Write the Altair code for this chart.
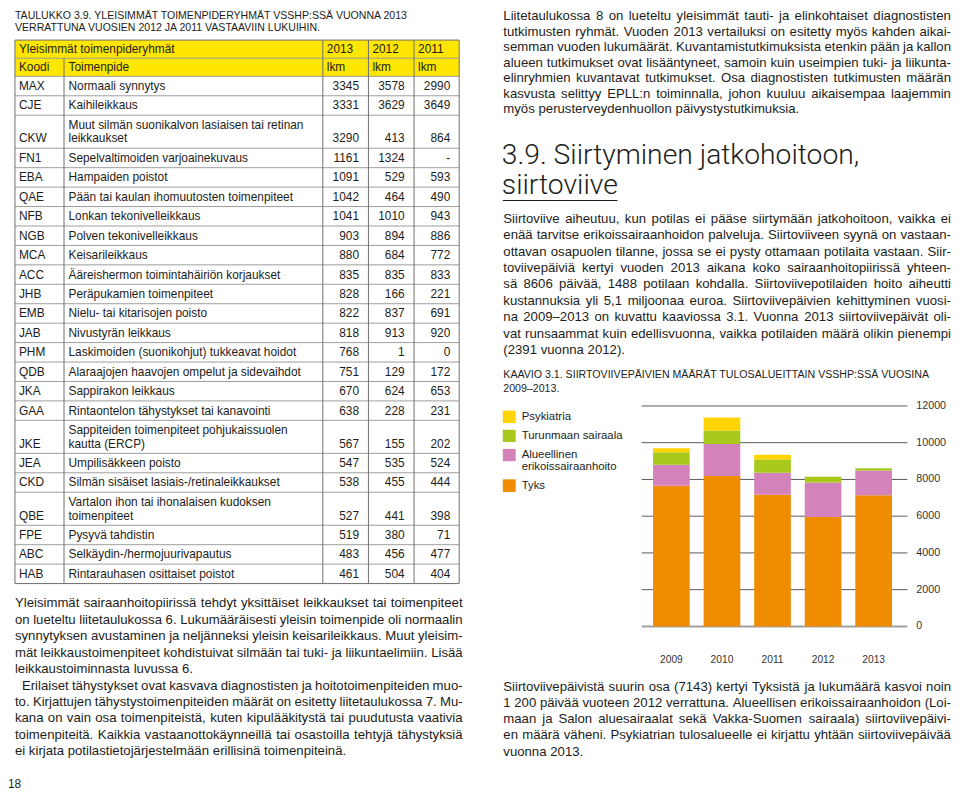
import altair as alt
import pandas as pd

# ---------------- data ----------------
years = ["2009", "2010", "2011", "2012", "2013"]
series_names = ["Tyks", "Alueellinen erikoissairaanhoito", "Turunmaan sairaala", "Psykiatria"]
tyks = [7650, 8190, 7160, 5950, 7143]
alueellinen = [1150, 1740, 1200, 1880, 1340]
turunmaa = [680, 740, 720, 320, 123]
psykiatria = [220, 700, 270, 0, 0]
series_colors = ["#F08C00", "#D483BA", "#A8C81C", "#FFD400"]
y_ticks = [0, 2000, 4000, 6000, 8000, 10000, 12000]

legend_series = ["Psykiatria", "Turunmaan sairaala", "Alueellinen erikoissairaanhoito", "Tyks"]
legend_labels = [["Psykiatria"], ["Turunmaan sairaala"], ["Alueellinen", "erikoissairaanhoito"], ["Tyks"]]

table_title = ["TAULUKKO 3.9. YLEISIMMÄT TOIMENPIDERYHMÄT VSSHP:SSÄ VUONNA 2013",
               "VERRATTUNA VUOSIEN 2012 JA 2011 VASTAAVIIN LUKUIHIN."]
table_head1 = ["Yleisimmät toimenpideryhmät", "2013", "2012", "2011"]
table_head2 = ["Koodi", "Toimenpide", "lkm", "lkm", "lkm"]
codes = ["MAX", "CJE", "CKW", "FN1", "EBA", "QAE", "NFB", "NGB", "MCA", "ACC", "JHB", "EMB",
         "JAB", "PHM", "QDB", "JKA", "GAA", "JKE", "JEA", "CKD", "QBE", "FPE", "ABC", "HAB"]
procedures = ["Normaali synnytys", "Kaihileikkaus",
              "Muut silmän suonikalvon lasiaisen tai retinan\nleikkaukset",
              "Sepelvaltimoiden varjoainekuvaus", "Hampaiden poistot",
              "Pään tai kaulan ihomuutosten toimenpiteet", "Lonkan tekonivelleikkaus",
              "Polven tekonivelleikkaus", "Keisarileikkaus", "Ääreishermon toimintahäiriön korjaukset",
              "Peräpukamien toimenpiteet", "Nielu- tai kitarisojen poisto", "Nivustyrän leikkaus",
              "Laskimoiden (suonikohjut) tukkeavat hoidot", "Alaraajojen haavojen ompelut ja sidevaihdot",
              "Sappirakon leikkaus", "Rintaontelon tähystykset tai kanavointi",
              "Sappiteiden toimenpiteet pohjukaissuolen\nkautta (ERCP)", "Umpilisäkkeen poisto",
              "Silmän sisäiset lasiais-/retinaleikkaukset",
              "Vartalon ihon tai ihonalaisen kudoksen\ntoimenpiteet", "Pysyvä tahdistin",
              "Selkäydin-/hermojuurivapautus", "Rintarauhasen osittaiset poistot"]
n2013 = ["3345", "3331", "3290", "1161", "1091", "1042", "1041", "903", "880", "835", "828", "822",
         "818", "768", "751", "670", "638", "567", "547", "538", "527", "519", "483", "461"]
n2012 = ["3578", "3629", "413", "1324", "529", "464", "1010", "894", "684", "835", "166", "837",
         "913", "1", "129", "624", "228", "155", "535", "455", "441", "380", "456", "504"]
n2011 = ["2990", "3649", "864", "-", "593", "490", "943", "886", "772", "833", "221", "691",
         "920", "0", "172", "653", "231", "202", "524", "444", "398", "71", "477", "404"]

left_par_a = ["Yleisimmät sairaanhoitopiirissä tehdyt yksittäiset leikkaukset tai toimenpiteet",
              "on lueteltu liitetaulukossa 6. Lukumääräisesti yleisin toimenpide oli normaalin",
              "synnytyksen avustaminen ja neljänneksi yleisin keisarileikkaus. Muut yleisim-",
              "mät leikkaustoimenpiteet kohdistuivat silmään tai tuki- ja liikuntaelimiin. Lisää",
              "leikkaustoiminnasta luvussa 6."]
left_par_b = ["Erilaiset tähystykset ovat kasvava diagnostisten ja hoitotoimenpiteiden muo-",
              "to. Kirjattujen tähystystoimenpiteiden määrät on esitetty liitetaulukossa 7. Mu-",
              "kana on vain osa toimenpiteistä, kuten kipulääkitystä tai puudutusta vaativia",
              "toimenpiteitä. Kaikkia vastaanottokäynneillä tai osastoilla tehtyjä tähystyksiä",
              "ei kirjata potilastietojärjestelmään erillisinä toimenpiteinä."]
right_par_1 = ["Liitetaulukossa 8 on lueteltu yleisimmät tauti- ja elinkohtaiset diagnostisten",
               "tutkimusten ryhmät. Vuoden 2013 vertailuksi on esitetty myös kahden aikai-",
               "semman vuoden lukumäärät. Kuvantamistutkimuksista etenkin pään ja kallon",
               "alueen tutkimukset ovat lisääntyneet, samoin kuin useimpien tuki- ja liikunta-",
               "elinryhmien kuvantavat tutkimukset. Osa diagnostisten tutkimusten määrän",
               "kasvusta selittyy EPLL:n toiminnalla, johon kuuluu aikaisempaa laajemmin",
               "myös perusterveydenhuollon päivystystutkimuksia."]
heading = ["3.9. Siirtyminen jatkohoitoon,", "siirtoviive"]
right_par_2 = ["Siirtoviive aiheutuu, kun potilas ei pääse siirtymään jatkohoitoon, vaikka ei",
               "enää tarvitse erikoissairaanhoidon palveluja. Siirtoviiveen syynä on vastaan-",
               "ottavan osapuolen tilanne, jossa se ei pysty ottamaan potilaita vastaan. Siir-",
               "toviivepäiviä kertyi vuoden 2013 aikana koko sairaanhoitopiirissä yhteen-",
               "sä 8606 päivää, 1488 potilaan kohdalla. Siirtoviivepotilaiden hoito aiheutti",
               "kustannuksia yli 5,1 miljoonaa euroa. Siirtoviivepäivien kehittyminen vuosi-",
               "na 2009–2013 on kuvattu kaaviossa 3.1. Vuonna 2013 siirtoviivepäivät oli-",
               "vat runsaammat kuin edellisvuonna, vaikka potilaiden määrä olikin pienempi",
               "(2391 vuonna 2012)."]
chart_caption = ["KAAVIO 3.1. SIIRTOVIIVEPÄIVIEN MÄÄRÄT TULOSALUEITTAIN VSSHP:SSÄ VUOSINA",
                 "2009–2013."]
right_par_3 = ["Siirtoviivepäivistä suurin osa (7143) kertyi Tyksistä ja lukumäärä kasvoi noin",
               "1\u00a0200 päivää vuoteen 2012 verrattuna. Alueellisen erikoissairaanhoidon (Loi-",
               "maan ja Salon aluesairaalat sekä Vakka-Suomen sairaala) siirtoviivepäivi-",
               "en määrä väheni. Psykiatrian tulosalueelle ei kirjattu yhtään siirtoviivepäivää",
               "vuonna 2013."]
page_number = "18"

# ---------------- layout helpers ----------------
OX, OY = 8, 8          # page margin: chart origin on the page
FONT = "Liberation Sans"
INK = "#1d1d1b"


def px(x):
    return x - OX


def py(y):
    return y - OY


AW = {' ': 278, '\u00a0': 278, '(': 333, ')': 333, ',': 278, '-': 333, '.': 278, '/': 278, ':': 278,
      '–': 556, 'A': 667, 'B': 667, 'C': 722, 'D': 722, 'E': 667, 'F': 611, 'G': 778, 'H': 722,
      'I': 278, 'J': 500, 'K': 667, 'L': 556, 'M': 833, 'N': 722, 'O': 778, 'P': 667, 'Q': 778,
      'R': 722, 'S': 667, 'T': 611, 'U': 722, 'V': 667, 'W': 944, 'X': 667, 'Y': 667, 'Z': 611,
      'Ä': 667, 'Ö': 778, 'a': 556, 'b': 556, 'c': 500, 'd': 556, 'e': 556, 'f': 278, 'g': 556,
      'h': 556, 'i': 222, 'j': 222, 'k': 500, 'l': 222, 'm': 833, 'n': 556, 'o': 556, 'p': 556,
      'q': 556, 'r': 333, 's': 500, 't': 278, 'u': 556, 'v': 500, 'w': 722, 'x': 500, 'y': 500,
      'z': 500, 'ä': 556, 'ö': 556}


def tw(s, size):
    return sum(AW.get(c, 556) for c in s) * size / 1000.0


def paragraph(lines, x0, x1, y0, lh, size, indent=0.0):
    rows = []
    for i, line in enumerate(lines):
        y = y0 + i * lh
        start = x0 + (indent if i == 0 else 0.0)
        words = line.split(" ")
        widths = [tw(w, size) for w in words]
        if i == len(lines) - 1 or len(words) == 1:
            gap = tw(" ", size)
        else:
            gap = max(1.6, (x1 - start - sum(widths)) / (len(words) - 1))
        x = start
        for w, wd in zip(words, widths):
            rows.append({"x": px(x), "y": py(y), "t": w})
            x += wd + gap
    return rows


def text_layer(rows, size, align="left", weight="normal", font=FONT, color=INK):
    df = pd.DataFrame(rows)
    return alt.Chart(df).mark_text(align=align, baseline="middle", font=font, fontSize=size,
                                   fontWeight=weight, color=color).encode(
        x=alt.X("x:Q", scale=None, axis=None),
        y=alt.Y("y:Q", scale=None, axis=None),
        text="t:N")


def rule_layer(segs, color, width):
    df = pd.DataFrame([{"x": px(a), "y": py(b), "x2": px(c), "y2": py(d)} for a, b, c, d in segs])
    return alt.Chart(df).mark_rule(color=color, strokeWidth=width).encode(
        x=alt.X("x:Q", scale=None, axis=None), y=alt.Y("y:Q", scale=None, axis=None),
        x2="x2:Q", y2="y2:Q")


layers = []
L_X0, L_X1 = 15, 466.5
R_X0, R_X1 = 507.5, 959
BODY = 13.3

# ---------------- left column: table title ----------------
title_size = 398 / (tw(table_title[0], 1.0))
layers.append(text_layer([{"x": px(15), "y": py(12.5), "t": table_title[0]},
                          {"x": px(15), "y": py(24.5), "t": table_title[1]}], title_size))

# ---------------- table ----------------
T_L, T_R = 15, 463
C1, C2, C3, C4 = 64.5, 325.5, 371.5, 417.5
T_TOP, HDR_H, ROW_H, EXTRA = 37.0, 18.3, 19.6, 13.7
hdr_bottom = T_TOP + 2 * HDR_H

hfill = pd.DataFrame([{"x": px(T_L), "x2": px(T_R), "y": py(T_TOP), "y2": py(hdr_bottom)}])
layers.append(alt.Chart(hfill).mark_rect(color="#FFE600").encode(
    x=alt.X("x:Q", scale=None, axis=None), x2="x2:Q",
    y=alt.Y("y:Q", scale=None, axis=None), y2="y2:Q"))

cells = []
hy1 = T_TOP + HDR_H / 2
hy2 = T_TOP + HDR_H * 1.5
cells.append({"x": px(T_L + 4), "y": py(hy1), "t": table_head1[0]})
for xx, t in zip([C2, C3, C4], table_head1[1:]):
    cells.append({"x": px(xx + 4), "y": py(hy1), "t": t})
cells.append({"x": px(T_L + 4), "y": py(hy2), "t": table_head2[0]})
cells.append({"x": px(C1 + 4.5), "y": py(hy2), "t": table_head2[1]})
for xx, t in zip([C2, C3, C4], table_head2[2:]):
    cells.append({"x": px(xx + 4), "y": py(hy2), "t": t})

nums = []
hlines = [T_TOP, T_TOP + HDR_H, hdr_bottom]
y = hdr_bottom
for code, name, a, b, c in zip(codes, procedures, n2013, n2012, n2011):
    parts = name.split("\n")
    h = ROW_H + EXTRA * (len(parts) - 1)
    yb = y + h - ROW_H / 2
    for k, part in enumerate(parts):
        cells.append({"x": px(C1 + 4.5), "y": py(yb - EXTRA * (len(parts) - 1 - k)), "t": part})
    cells.append({"x": px(T_L + 4), "y": py(yb), "t": code})
    for xx, t in zip([C3 - 9.5, C4 - 9.5, T_R - 9], [a, b, c]):
        nums.append({"x": px(xx), "y": py(yb), "t": t})
    y += h
    hlines.append(y)
T_BOT = y

layers.append(rule_layer([(T_L, v, T_R, v) for v in hlines[1:-1]], "#9d9d9d", 1))
layers.append(rule_layer([(T_L, T_TOP, T_R, T_TOP), (T_L, T_BOT, T_R, T_BOT),
                          (T_L, T_TOP, T_L, T_BOT), (T_R, T_TOP, T_R, T_BOT),
                          (C1, T_TOP + HDR_H, C1, T_BOT), (C2, T_TOP, C2, T_BOT),
                          (C3, T_TOP, C3, T_BOT), (C4, T_TOP, C4, T_BOT)], "#6f6f6f", 1))
layers.append(text_layer(cells, 12))
layers.append(text_layer(nums, 12, align="right"))

# ---------------- left paragraph ----------------
LH = 16.6
layers.append(text_layer(paragraph(left_par_a, L_X0, L_X1, 605, LH, BODY), BODY))
layers.append(text_layer(paragraph(left_par_b, L_X0, L_X1, 605 + 5 * LH, LH, BODY, indent=7), BODY))
layers.append(text_layer([{"x": px(8), "y": py(787), "t": page_number}], 12))

# ---------------- right column ----------------
layers.append(text_layer(paragraph(right_par_1, R_X0, R_X1, 13, 15.6, BODY), BODY))
layers.append(text_layer([{"x": px(506), "y": py(153), "t": heading[0]},
                          {"x": px(506), "y": py(183.5), "t": heading[1]}], 28.5, weight=300,
                         font="Roboto, Liberation Sans"))
layers.append(rule_layer([(507, 198.8, 622.7, 198.8)], "#1d1d1b", 1))
layers.append(text_layer(paragraph(right_par_2, R_X0, R_X1, 217.5, 16.5, BODY), BODY))
cap_size = 432 / tw(chart_caption[0], 1.0)
layers.append(text_layer([{"x": px(R_X0), "y": py(375), "t": chart_caption[0]},
                          {"x": px(R_X0), "y": py(388.5), "t": chart_caption[1]}], cap_size))
layers.append(text_layer(paragraph(right_par_3, R_X0, R_X1, 689, 16.4, BODY), BODY))

# ---------------- legend ----------------
cs = alt.Scale(domain=series_names, range=series_colors)
leg_boxes = [(410.7, 423.3), (430.0, 442.3), (449.3, 461.7), (480.0, 492.7)]
leg_df = pd.DataFrame([{"series": s, "y": py(a), "y2": py(b), "x": px(507), "x2": px(520)}
                       for s, (a, b) in zip(legend_series, leg_boxes)])
layers.append(alt.Chart(leg_df).mark_rect().encode(
    x=alt.X("x:Q", scale=None, axis=None), x2="x2:Q",
    y=alt.Y("y:Q", scale=None, axis=None), y2="y2:Q",
    color=alt.Color("series:N", scale=cs, legend=None)))
leg_text = []
for (a, b), labs in zip(leg_boxes, legend_labels):
    for k, lab in enumerate(labs):
        leg_text.append({"x": px(526), "y": py((a + b) / 2 + k * 12), "t": lab})
layers.append(text_layer(leg_text, 11.5))

# ---------------- stacked bar chart ----------------
bar_rows = []
for s_i, (s, vals) in enumerate(zip(series_names, [tyks, alueellinen, turunmaa, psykiatria])):
    for yr, v in zip(years, vals):
        bar_rows.append({"year": yr, "series": s, "value": v, "ord": s_i})
bar_df = pd.DataFrame(bar_rows)

xs = alt.Scale(domain=years, range=[px(651.5), px(906.5)], paddingInner=0.275, paddingOuter=0.1375)
ys = alt.Scale(domain=[0, 12000], range=[py(628.3), py(406)], nice=False, zero=True)

grid = alt.Chart(pd.DataFrame({"v": y_ticks[1:]})).mark_rule(color="#5a5a5a", strokeWidth=1).encode(
    y=alt.Y("v:Q", scale=ys, axis=None), x=alt.value(px(647)), x2=alt.value(px(915)))
base = alt.Chart(pd.DataFrame({"v": y_ticks[:1]})).mark_rule(color="#a0a0a0", strokeWidth=2).encode(
    y=alt.Y("v:Q", scale=ys, axis=None), x=alt.value(px(647)), x2=alt.value(px(915)))
bars = alt.Chart(bar_df).mark_bar().encode(
    x=alt.X("year:N", scale=xs, axis=None),
    y=alt.Y("value:Q", scale=ys, axis=None, stack="zero"),
    color=alt.Color("series:N", scale=cs, legend=None),
    order=alt.Order("ord:Q"))
ylab = alt.Chart(pd.DataFrame({"v": y_ticks, "lab": [str(v) for v in y_ticks]})).mark_text(
    align="left", baseline="middle", font=FONT, fontSize=10.8, color="#333333").encode(
    y=alt.Y("v:Q", scale=ys, axis=None), x=alt.value(px(924)), text="lab:N")
xlab = alt.Chart(pd.DataFrame({"year": years})).mark_text(
    align="center", baseline="middle", font=FONT, fontSize=10.3, color="#333333").encode(
    x=alt.X("year:N", scale=xs, axis=None), y=alt.value(py(662.7)), text="year:N")
barchart = alt.layer(grid, base, bars, ylab, xlab)

chart = alt.layer(*layers, barchart).resolve_scale(
    x="independent", y="independent"
).properties(
    width=952, height=787, padding=0, background="white",
    autosize=alt.AutoSizeParams(type="none")
).configure_view(stroke=None)

chart.save("out.html", embed_options={"renderer": "svg", "actions": False})
